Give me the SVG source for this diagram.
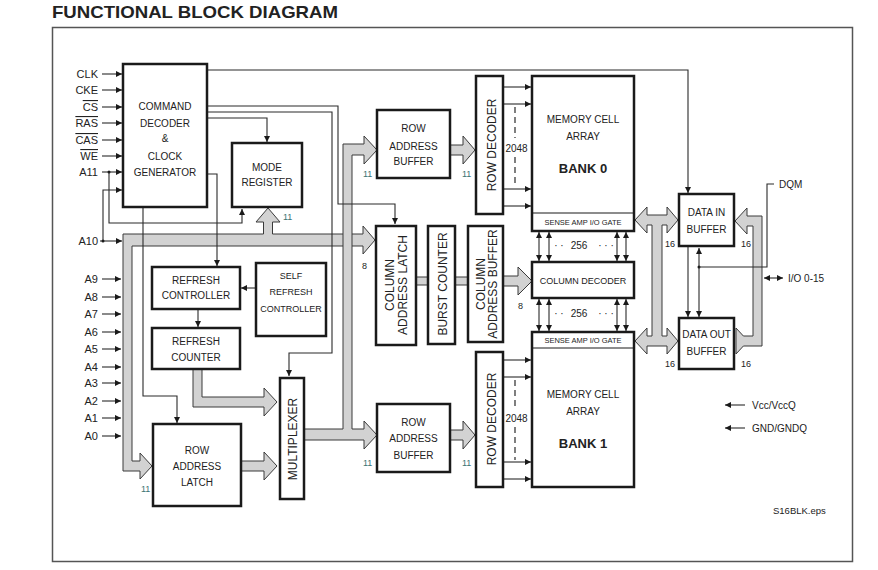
<svg xmlns="http://www.w3.org/2000/svg" width="878" height="570" viewBox="0 0 878 570">
<defs>
<marker id="ah" viewBox="0 0 10 10" refX="10" refY="5" markerWidth="7" markerHeight="6" markerUnits="userSpaceOnUse" orient="auto-start-reverse"><path d="M0,0L10,5L0,10z" fill="#1a1a1a"/></marker>
<style>
text{font-family:"Liberation Sans",Arial,sans-serif;fill:#222}
.box{fill:#fff;stroke:#1a1a1a;stroke-width:2.5}
.thin{fill:none;stroke:#1a1a1a;stroke-width:1.2}
.bus{fill:#d2d2d2;stroke:#3a3a3a;stroke-width:1}
.w{fill:none;stroke:#2a2a2a;stroke-width:1.1}
.a{marker-end:url(#ah)}
.b{marker-start:url(#ah);marker-end:url(#ah)}
.dash{fill:none;stroke:#2a2a2a;stroke-width:1.2;stroke-dasharray:6,4}
.t10{font-size:10px;text-anchor:middle}
.t9{font-size:9px;text-anchor:middle}
.in{font-size:11px;text-anchor:end}
.rot{font-size:12px;text-anchor:middle}
.num{font-size:9px}
.teal{fill:#3c7373}
.ov{text-decoration:overline}
</style>
</defs>
<rect width="878" height="570" fill="#fff"/>
<text x="52" y="18" font-size="17" font-weight="bold" textLength="286" lengthAdjust="spacingAndGlyphs">FUNCTIONAL BLOCK DIAGRAM</text>
<rect x="52.5" y="27.5" width="800" height="534" fill="none" stroke="#555" stroke-width="1.5"/>

<g id="buses">
<polygon class="bus" points="123,234 263.5,234 263.5,222 256,222 268,208 280,222 272.5,222 272.5,234 363,234 363,226 375,240 363,254 363,246 132,246 132,461 140,461 140,453 152,466 140,479 140,471 123,471"/>
<polygon class="bus" points="343,144 364,144 364,136 377,150 364,164 364,155 352,155 352,429 364,429 364,421 377,435 364,449 364,440 304,440 304,429 343,429"/>
<polygon class="bus" points="193,369 202,369 202,397 264,397 264,388 277,402 264,416 264,407 193,407"/>
<polygon class="bus" points="241,461 264,461 264,452 277,466 264,480 264,471 241,471"/>
<polygon class="bus" points="450,145 463,145 463,136 475,150 463,164 463,155 450,155"/>
<polygon class="bus" points="450,430 463,430 463,421 475,435 463,449 463,440 450,440"/>
<rect class="bus" x="416" y="277" width="12" height="8"/>
<rect class="bus" x="455" y="277" width="13" height="8"/>
<polygon class="bus" points="503,276 518,276 518,267 532,281 518,295 518,286 503,286"/>
<polygon class="bus" points="635,220 647,207 647,215 667,215 667,207 678,220 667,233 667,225 662,225 662,336 667,336 667,328 678,341 667,354 667,346 647,346 647,354 635,341 647,328 647,336 652,336 652,225 647,225 647,233"/>
<polygon class="bus" points="736,328 743.4,336 753,336 753,226 747,226 747,234 735,221 747,208 747,216 762,216 762,346 743.4,346 736,354"/>
</g>

<g id="connectors">
<!-- inputs -->
<line class="w a" x1="102" y1="74" x2="122" y2="74"/>
<line class="w a" x1="102" y1="90" x2="122" y2="90"/>
<line class="w a" x1="102" y1="107" x2="122" y2="107"/>
<line class="w a" x1="102" y1="123" x2="122" y2="123"/>
<line class="w a" x1="102" y1="140" x2="122" y2="140"/>
<line class="w a" x1="102" y1="156" x2="122" y2="156"/>
<line class="w a" x1="102" y1="172" x2="122" y2="172"/>
<polyline class="w a" points="109,172 109,223 242,223 242,209"/>
<circle cx="109" cy="172" r="1.5" fill="#1a1a1a"/>
<line class="w a" x1="100" y1="241" x2="122" y2="241"/>
<polyline class="w a" points="103,241 103,190 122,190"/>
<circle cx="103" cy="241" r="1.5" fill="#1a1a1a"/>
<line class="w a" x1="102" y1="279" x2="121" y2="279"/>
<line class="w a" x1="102" y1="297" x2="121" y2="297"/>
<line class="w a" x1="102" y1="314" x2="121" y2="314"/>
<line class="w a" x1="102" y1="332" x2="121" y2="332"/>
<line class="w a" x1="102" y1="349" x2="121" y2="349"/>
<line class="w a" x1="102" y1="367" x2="121" y2="367"/>
<line class="w a" x1="102" y1="383" x2="121" y2="383"/>
<line class="w a" x1="102" y1="401" x2="121" y2="401"/>
<line class="w a" x1="102" y1="418" x2="121" y2="418"/>
<line class="w a" x1="102" y1="436" x2="121" y2="436"/>
<!-- decoder outputs -->
<polyline class="w a" points="207,70 688,70 688,193"/>
<polyline class="w a" points="207,106 338,106 338,204 395,204 395,224"/>
<polyline class="w a" points="207,112 332,112 332,353 289,353 289,376"/>
<polyline class="w a" points="207,118 267,118 267,142"/>
<polyline class="w a" points="207,174 217,174 217,266"/>
<polyline class="w a" points="143,207 143,396 177,396 177,423"/>
<line class="w a" x1="256" y1="288" x2="241" y2="288"/>
<line class="w a" x1="198" y1="310" x2="198" y2="327"/>
<!-- row decoder outputs -->
<line class="w a" x1="503" y1="87" x2="531" y2="87"/>
<line class="w a" x1="503" y1="104" x2="531" y2="104"/>
<line class="w a" x1="503" y1="189" x2="531" y2="189"/>
<line class="w a" x1="503" y1="206" x2="531" y2="206"/>
<line class="dash" x1="515" y1="107" x2="515" y2="138"/>
<line class="dash" x1="515" y1="157" x2="515" y2="187"/>
<line class="w a" x1="503" y1="360" x2="531" y2="360"/>
<line class="w a" x1="503" y1="377" x2="531" y2="377"/>
<line class="w a" x1="503" y1="462" x2="531" y2="462"/>
<line class="w a" x1="503" y1="479" x2="531" y2="479"/>
<line class="dash" x1="515" y1="380" x2="515" y2="408"/>
<line class="dash" x1="515" y1="427" x2="515" y2="460"/>
<!-- sense amp <-> column decoder -->
<line class="w b" x1="539" y1="232" x2="539" y2="261"/>
<line class="w b" x1="549" y1="232" x2="549" y2="261"/>
<line class="w b" x1="617" y1="232" x2="617" y2="261"/>
<line class="w b" x1="626" y1="232" x2="626" y2="261"/>
<line class="w b" x1="539" y1="299" x2="539" y2="331"/>
<line class="w b" x1="549" y1="299" x2="549" y2="331"/>
<line class="w b" x1="617" y1="299" x2="617" y2="331"/>
<line class="w b" x1="626" y1="299" x2="626" y2="331"/>
<!-- data buffers -->
<line class="w a" x1="688" y1="247" x2="688" y2="317"/>
<line class="w b" x1="699" y1="248" x2="699" y2="317"/>
<circle cx="699" cy="267" r="1.5" fill="#1a1a1a"/>
<polyline class="w" points="774,184 767,184 767,267 699,267"/>
<line class="w b" x1="764" y1="278" x2="783" y2="278"/>
<line class="w a" x1="745" y1="405" x2="725" y2="405"/>
<line class="w a" x1="745" y1="428" x2="725" y2="428"/>
</g>

<g id="inputs">
<text class="in" x="98" y="78">CLK</text>
<text class="in" x="98" y="94">CKE</text>
<text class="in ov" x="98" y="111">CS</text>
<text class="in ov" x="98" y="127">RAS</text>
<text class="in ov" x="98" y="144">CAS</text>
<text class="in ov" x="98" y="160">WE</text>
<text class="in" x="98" y="176">A11</text>
<text class="in" x="98" y="245">A10</text>
<text class="in" x="98" y="283">A9</text>
<text class="in" x="98" y="301">A8</text>
<text class="in" x="98" y="318">A7</text>
<text class="in" x="98" y="336">A6</text>
<text class="in" x="98" y="353">A5</text>
<text class="in" x="98" y="371">A4</text>
<text class="in" x="98" y="387">A3</text>
<text class="in" x="98" y="405">A2</text>
<text class="in" x="98" y="422">A1</text>
<text class="in" x="98" y="440">A0</text>
</g>

<g id="command-decoder">
<rect class="box" x="123" y="64" width="84" height="143"/>
<text class="t10" x="165" y="110">COMMAND</text>
<text class="t10" x="165" y="127">DECODER</text>
<text class="t10" x="165" y="142">&amp;</text>
<text class="t10" x="165" y="160">CLOCK</text>
<text class="t10" x="165" y="176">GENERATOR</text>
</g>
<g id="mode-register">
<rect class="box" x="232" y="143" width="70" height="64"/>
<text class="t10" x="267" y="171">MODE</text>
<text class="t10" x="267" y="186">REGISTER</text>
<text class="num teal" x="283" y="220">11</text>
</g>
<g id="refresh-controller">
<rect class="box" x="152" y="267" width="88" height="42"/>
<text class="t10" x="196" y="284">REFRESH</text>
<text class="t10" x="196" y="299">CONTROLLER</text>
</g>
<g id="self-refresh-controller">
<rect class="box" x="256" y="263" width="70" height="73"/>
<text class="t9" x="291" y="279">SELF</text>
<text class="t9" x="291" y="295">REFRESH</text>
<text class="t9" x="291" y="312">CONTROLLER</text>
</g>
<g id="refresh-counter">
<rect class="box" x="152" y="328" width="88" height="41"/>
<text class="t10" x="196" y="345">REFRESH</text>
<text class="t10" x="196" y="361">COUNTER</text>
</g>
<g id="row-address-latch">
<rect class="box" x="153" y="424" width="88" height="82"/>
<text class="t10" x="197" y="454">ROW</text>
<text class="t10" x="197" y="470">ADDRESS</text>
<text class="t10" x="197" y="486">LATCH</text>
<text class="num teal" x="141" y="492">11</text>
</g>
<g id="multiplexer">
<rect class="box" x="280" y="378" width="24" height="121"/>
<text class="rot" transform="translate(297,439) rotate(-90)">MULTIPLEXER</text>
</g>
<g id="row-address-buffer-0">
<rect class="box" x="377" y="110" width="73" height="68"/>
<text class="t10" x="413.5" y="132">ROW</text>
<text class="t10" x="413.5" y="150">ADDRESS</text>
<text class="t10" x="413.5" y="165">BUFFER</text>
<text class="num teal" x="363" y="177">11</text>
<text class="num teal" x="462" y="177">11</text>
</g>
<g id="row-address-buffer-1">
<rect class="box" x="377" y="404" width="73" height="68"/>
<text class="t10" x="413.5" y="426">ROW</text>
<text class="t10" x="413.5" y="442">ADDRESS</text>
<text class="t10" x="413.5" y="459">BUFFER</text>
<text class="num teal" x="363" y="466">11</text>
<text class="num teal" x="462" y="466">11</text>
</g>
<g id="row-decoder-0">
<rect class="box" x="476" y="76" width="27" height="138"/>
<text class="rot" transform="translate(495.5,145) rotate(-90)">ROW DECODER</text>
<text class="t10" x="516.5" y="152">2048</text>
</g>
<g id="row-decoder-1">
<rect class="box" x="476" y="352" width="27" height="135"/>
<text class="rot" transform="translate(495.5,419) rotate(-90)">ROW DECODER</text>
<text class="t10" x="516.5" y="422">2048</text>
</g>
<g id="column-address-latch">
<rect class="box" x="376" y="226" width="40" height="119"/>
<text class="rot" transform="translate(394,285) rotate(-90)">COLUMN</text>
<text class="rot" transform="translate(406.5,285) rotate(-90)">ADDRESS LATCH</text>
<text class="num" x="362" y="269">8</text>
</g>
<g id="burst-counter">
<rect class="box" x="428" y="226" width="27" height="118"/>
<text class="rot" transform="translate(446.5,284) rotate(-90)">BURST COUNTER</text>
</g>
<g id="column-address-buffer">
<rect class="box" x="468" y="226" width="35" height="116"/>
<text class="rot" transform="translate(485,284) rotate(-90)">COLUMN</text>
<text class="rot" transform="translate(497,284) rotate(-90)">ADDRESS BUFFER</text>
<text class="num" x="518" y="309">8</text>
</g>
<g id="bank-0">
<rect class="box" x="532" y="76" width="102" height="155"/>
<line class="thin" x1="532" y1="213" x2="634" y2="213"/>
<text class="t10" x="583" y="123">MEMORY CELL</text>
<text class="t10" x="583" y="140">ARRAY</text>
<text x="583" y="173" font-size="13" font-weight="bold" text-anchor="middle">BANK 0</text>
<text x="583" y="225" font-size="7.5" text-anchor="middle">SENSE AMP I/O GATE</text>
</g>
<g id="column-decoder">
<rect class="box" x="532" y="262" width="102" height="36"/>
<text class="t9" x="583" y="284">COLUMN DECODER</text>
<text class="t10" x="559" y="249">· ·</text>
<text class="t10" x="579" y="249">256</text>
<text class="t10" x="606" y="249">· · ·</text>
<text class="t10" x="559" y="317">· ·</text>
<text class="t10" x="579" y="317">256</text>
<text class="t10" x="606" y="317">· · ·</text>
</g>
<g id="bank-1">
<rect class="box" x="532" y="332" width="102" height="155"/>
<line class="thin" x1="532" y1="348" x2="634" y2="348"/>
<text x="583" y="343" font-size="7.5" text-anchor="middle">SENSE AMP I/O GATE</text>
<text class="t10" x="583" y="398">MEMORY CELL</text>
<text class="t10" x="583" y="415">ARRAY</text>
<text x="583" y="448" font-size="13" font-weight="bold" text-anchor="middle">BANK 1</text>
</g>
<g id="data-in-buffer">
<rect class="box" x="679" y="194" width="55" height="52"/>
<text class="t10" x="706.5" y="216">DATA IN</text>
<text class="t10" x="706.5" y="233">BUFFER</text>
<text class="num" x="665" y="247">16</text>
<text class="num" x="741" y="247">16</text>
</g>
<g id="data-out-buffer">
<rect class="box" x="679" y="318" width="55" height="51"/>
<text class="t10" x="706.5" y="338">DATA OUT</text>
<text class="t10" x="706.5" y="355">BUFFER</text>
<text class="num" x="665" y="367">16</text>
<text class="num" x="741" y="367">16</text>
</g>
<g id="pins">
<text x="779" y="188" font-size="10">DQM</text>
<text x="788" y="282" font-size="10">I/O 0-15</text>
<text x="752" y="409" font-size="10">Vcc/VccQ</text>
<text x="752" y="432" font-size="10">GND/GNDQ</text>
<text x="773" y="514" font-size="9.5">S16BLK.eps</text>
</g>
</svg>
